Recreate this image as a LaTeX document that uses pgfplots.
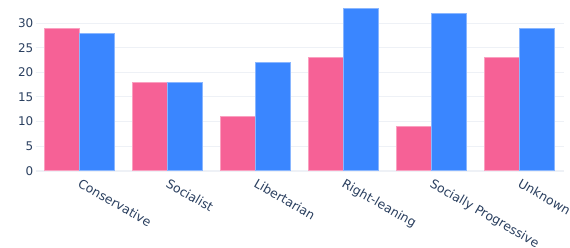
\documentclass[border=0pt]{standalone}
\usepackage{pgfplots}
\pgfplotsset{compat=1.18}
\usepackage{fontspec}
\setmainfont{DejaVu Sans}
\definecolor{pinkb}{RGB}{246,97,150}
\definecolor{blueb}{RGB}{58,134,255}
\definecolor{txt}{RGB}{42,63,95}
\definecolor{gridc}{RGB}{238,241,246}
\begin{document}
\begin{tikzpicture}[x=1bp,y=1bp]
\path[use as bounding box] (0,0) rectangle (570,247);
\begin{axis}[
  at={(35.5bp,76.3bp)}, anchor=south west,
  scale only axis, width=528bp, height=170.7bp,
  xmin=-0.5, xmax=5.5, ymin=0, ymax=34.74,
  ybar=0pt, bar width=0.4,
  xtick={0,1,2,3,4,5},
  xticklabels={Conservative,Socialist,Libertarian,Right-leaning,Socially Progressive,Unknown},
  xticklabel style={rotate=-30, anchor=north west, inner sep=0pt, xshift=5.5bp, yshift=-5bp, font=\fontsize{12.5}{14}\selectfont},
  ytick={0,5,10,15,20,25,30},
  yticklabel style={inner sep=0pt, xshift=-2bp, font=\fontsize{12}{14}\selectfont},
  /pgf/number format/assume math mode=true,
  ticklabel style={text=txt},
  major tick length=0pt,
  axis line style={draw=none},
  ymajorgrids, xmajorgrids=false, grid style={draw=gridc, line width=1bp},
  clip=false,
]
\draw[gridc, line width=2bp] (axis cs:-0.5,0) -- (axis cs:5.5,0);
\addplot[fill=pinkb, draw=pinkb!60!white, line width=0.5bp] coordinates {(0,29) (1,18) (2,11) (3,23) (4,9) (5,23)};
\addplot[fill=blueb, draw=blueb!60!white, line width=0.5bp] coordinates {(0,28) (1,18) (2,22) (3,33) (4,32) (5,29)};
\end{axis}
\end{tikzpicture}
\end{document}
